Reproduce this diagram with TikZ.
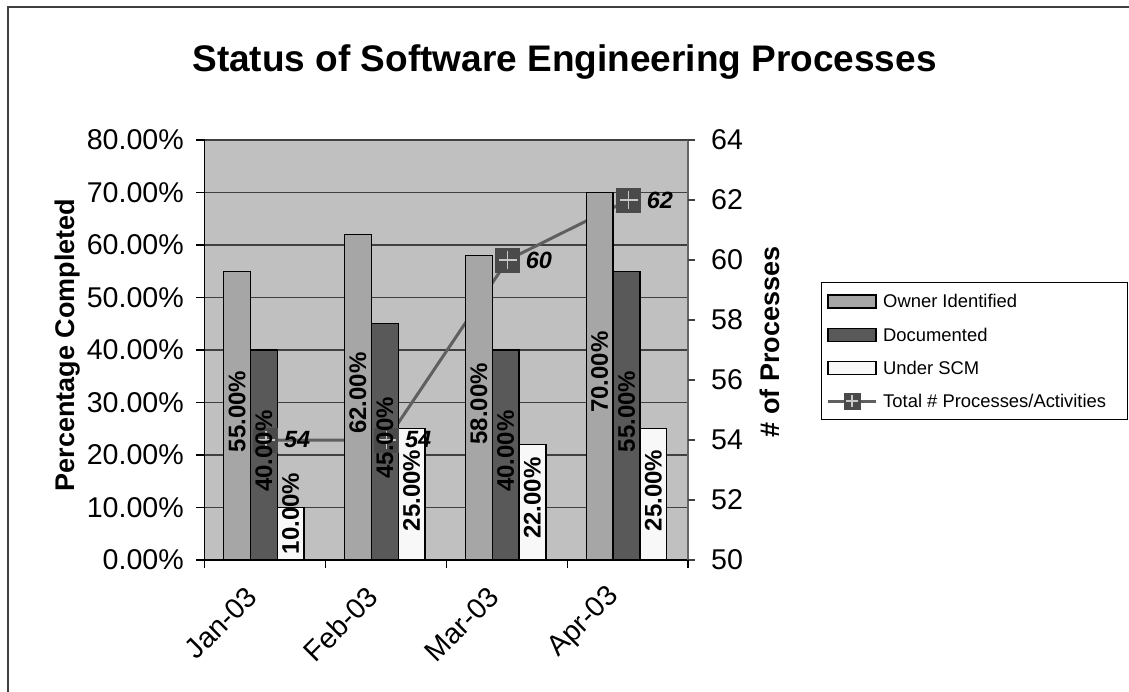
\documentclass[tikz,border=0pt]{standalone}
\usepackage{fontspec}
\setmainfont{Liberation Sans}
\definecolor{plotbg}{HTML}{C0C0C0}
\definecolor{ownerc}{HTML}{A6A6A6}
\definecolor{docc}{HTML}{595959}
\definecolor{scmc}{HTML}{F8F8F8}
\definecolor{linec}{HTML}{5F5F5F}
\definecolor{markc}{HTML}{4A4A4A}
\definecolor{plusc}{HTML}{C8C8C8}
\definecolor{gridc}{HTML}{404040}
\definecolor{framec}{HTML}{404040}
\tikzset{
  barline/.style={draw=black, line width=1.3pt},
  gridline/.style={draw=gridc, line width=1.2pt},
  serline/.style={draw=linec, line width=3pt},
  marker/.style={fill=markc, draw=none, minimum size=25pt, inner sep=0pt},
  legmarker/.style={fill=markc, draw=none, minimum size=17pt, inner sep=0pt},
  dlabel/.style={rotate=90, inner sep=0pt, font=\fontsize{24}{24}\selectfont\bfseries},
  vlabel/.style={anchor=west, inner sep=0pt, font=\fontsize{23.5}{24}\selectfont\bfseries\itshape},
  ticklabel/.style={inner sep=0pt, font=\fontsize{28.6}{29}\selectfont},
  catlabel/.style={rotate=45, anchor=east, inner sep=0pt, font=\fontsize{28.6}{29}\selectfont},
  axtitle/.style={rotate=90, inner sep=0pt, font=\fontsize{27}{28}\selectfont\bfseries},
  legtext/.style={anchor=west, inner sep=0pt, font=\fontsize{18.4}{19}\selectfont},
  swatch/.style={draw=black, line width=1.2pt}
}
\begin{document}
\begin{tikzpicture}[x=1pt,y=-1pt]
\useasboundingbox (0,0) rectangle (1129,691);
\clip (0,0) rectangle (1129,691);
\fill[white] (0,0) rectangle (1129,691);
% outer frame
\draw[framec, line width=2pt] (8,7) rectangle (1145,710);
% title
\node[anchor=base, inner sep=0pt, font=\fontsize{37}{38}\selectfont\bfseries] (title) at (564.5,71) {Status of Software Engineering Processes};
% plot area
\fill[plotbg] (204.5,140) rectangle (688,560);
\foreach \k in {1,...,8} {
  \draw[gridline] (204.5,560-52.5*\k) -- (688,560-52.5*\k);
}
% line series points
\foreach \v [count=\i] in {54,54,60,62} {
  \coordinate (p\i) at ({204.5+120.875*(\i-0.5)+1},{560-(\v-50)*30});
}
\draw[serline] (p1) -- (p2) -- (p3) -- (p4);
% bars
\foreach \o/\d/\s [count=\i] in {55/40/10,62/45/25,58/40/22,70/55/25} {
  \pgfmathsetmacro\gx{223.7+120.875*(\i-1)}
  \draw[barline, fill=ownerc] (\gx,560) rectangle ++(26.8,-\o*5.25);
  \draw[barline, fill=docc] (\gx+26.8,560) rectangle ++(26.8,-\d*5.25);
  \draw[barline, fill=scmc] (\gx+53.6,560) rectangle ++(26.8,-\s*5.25);
}
% axes
\draw[black, line width=1.3pt] (204.5,140) -- (204.5,560) -- (688,560);
\draw[gridc!80!white, line width=2pt] (688,140) -- (688,566);
\foreach \k in {0,...,8} {
  \draw[black, line width=1.2pt] (196,560-52.5*\k) -- (204.5,560-52.5*\k);
}
\foreach \k in {0,...,7} {
  \draw[gridc, line width=1.2pt] (688,560-60*\k) -- (695,560-60*\k);
}
\foreach \k in {0,...,4} {
  \draw[black, line width=1.2pt] (204.5+120.875*\k,560) -- (204.5+120.875*\k,568);
}
% markers
\foreach \v [count=\i] in {54,54,60,62} {
  \node[marker] (m\i) at (p\i) {};
  \draw[plusc, line width=1.3pt] ([xshift=-9pt]m\i.center) -- ([xshift=9pt]m\i.center);
  \draw[plusc, line width=1.3pt] ([yshift=-9pt]m\i.center) -- ([yshift=9pt]m\i.center);
}
% bar data labels
\foreach \o/\d/\s [count=\i] in {55/40/10,62/45/25,58/40/22,70/55/25} {
  \pgfmathsetmacro\gx{223.7+120.875*(\i-1)}
  \pgfmathsetmacro\lo{min(556-2.625*\o,513.5)}
  \pgfmathsetmacro\ld{min(556-2.625*\d,513.5)}
  \pgfmathsetmacro\ls{min(556-2.625*\s,513.5)}
  \node[dlabel] (lo\i) at (\gx+13.4,\lo) {\o.00\%};
  \node[dlabel] (ld\i) at (\gx+40.2,\ld) {\d.00\%};
  \node[dlabel] (ls\i) at (\gx+67,\ls) {\s.00\%};
}
% value labels
\foreach \v [count=\i] in {54,54,60,62} {
  \node[vlabel] (v\i) at ([xshift=18pt]m\i.center) {\v};
}
% left tick labels
\foreach \t [count=\k from 0] in {0.00,10.00,20.00,30.00,40.00,50.00,60.00,70.00,80.00} {
  \node[ticklabel, anchor=east] (yl\k) at (184,560-52.5*\k) {\t\%};
}
% right tick labels
\foreach \t [count=\k from 0] in {50,52,54,56,58,60,62,64} {
  \node[ticklabel, anchor=west] (yr\k) at (711,560-60*\k) {\t};
}
% category labels
\foreach \t [count=\i] in {Jan-03,Feb-03,Mar-03,Apr-03} {
  \node[catlabel] (c\i) at ({204.5+120.875*(\i-0.5)-13},592) {\t};
}
% axis titles
\node[axtitle] (ytl) at (68,345) {Percentage Completed};
\node[axtitle] (ytr) at (770,342) {\# of Processes};
% legend
\node[draw=black, line width=1pt, fill=white, minimum width=306pt, minimum height=137pt, inner sep=0pt] (leg) at (974,350.5) {};
\draw[swatch, fill=ownerc] (828,295) rectangle (876,308);
\node[legtext] (lt1) at (883,301) {Owner Identified};
\draw[swatch, fill=docc] (828,328.5) rectangle (876,341.5);
\node[legtext] (lt2) at (883,335) {Documented};
\draw[swatch, fill=scmc] (828,361.5) rectangle (876,374.5);
\node[legtext] (lt3) at (883,368) {Under SCM};
\coordinate (la) at (828,401);
\coordinate (lb) at (876,401);
\draw[serline] (la) -- (lb);
\node[legmarker] (lm) at (852,401) {};
\draw[plusc, line width=1.2pt] ([xshift=-6pt]lm.center) -- ([xshift=6pt]lm.center);
\draw[plusc, line width=1.2pt] ([yshift=-6pt]lm.center) -- ([yshift=6pt]lm.center);
\node[legtext] (lt4) at (883,401) {Total \# Processes/Activities};
\end{tikzpicture}
\end{document}
